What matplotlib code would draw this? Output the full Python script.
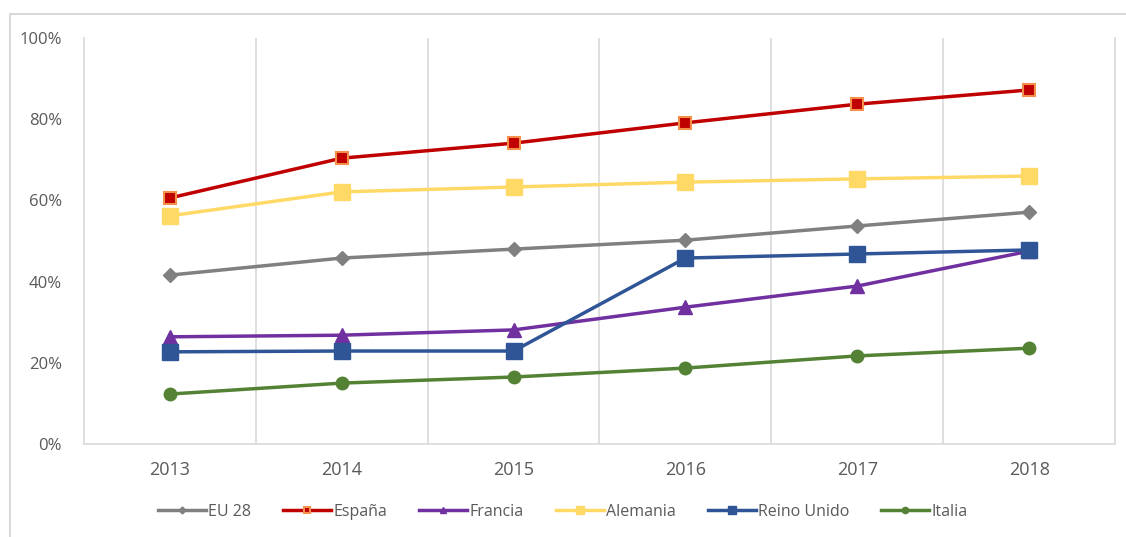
import matplotlib
matplotlib.use("Agg")
import matplotlib.pyplot as plt
from matplotlib.patches import Rectangle
from matplotlib.ticker import FuncFormatter

years = ["2013", "2014", "2015", "2016", "2017", "2018"]
eu28 = [41.6, 45.8, 48.0, 50.2, 53.7, 57.1]
espana = [60.6, 70.4, 74.1, 79.1, 83.7, 87.2]
francia = [26.4, 26.8, 28.1, 33.7, 38.9, 47.5]
alemania = [56.2, 62.1, 63.3, 64.5, 65.3, 66.0]
reino_unido = [22.7, 22.9, 22.9, 45.8, 46.8, 47.8]
italia = [12.3, 15.0, 16.5, 18.7, 21.7, 23.6]

plt.rcParams['font.family'] = ['Open Sans', 'DejaVu Sans']

fig = plt.figure(figsize=(11.26, 5.37), dpi=100)
ax = fig.add_axes([84/1126, 1-444/537, (1115-84)/1126, (444-38)/537])

x = list(range(len(years)))
series = [
    ("EU 28", eu28, dict(color="#808080", marker="D", ms=7, mfc="#808080", mec="#808080")),
    ("España", espana, dict(color="#C00000", marker="s", ms=9, mfc="#C00000", mec="#F4904A", mew=1.5)),
    ("Francia", francia, dict(color="#7030A0", marker="^", ms=10, mfc="#7030A0", mec="#7030A0")),
    ("Alemania", alemania, dict(color="#FFD966", marker="s", ms=11, mfc="#FFD966", mec="#FFD966")),
    ("Reino Unido", reino_unido, dict(color="#2F5597", marker="s", ms=11, mfc="#2F5597", mec="#2F5597")),
    ("Italia", italia, dict(color="#548235", marker="o", ms=9, mfc="#548235", mec="#548235")),
]
for name, vals, st in series:
    ax.plot(x, vals, lw=2.5, label=name, **st)

ax.set_xlim(-0.5, len(years) - 0.5)
ax.set_ylim(0, 100)
ax.set_yticks([0, 20, 40, 60, 80, 100])
ax.yaxis.set_major_formatter(FuncFormatter(lambda v, p: f"{int(v)}%"))
ax.set_xticks(x)
ax.set_xticklabels(years)
for b in [i + 0.5 for i in range(len(years) - 1)]:
    ax.axvline(b, color="#D9D9D9", lw=1.2, zorder=0)

ax.spines["top"].set_visible(False)
for s in ["left", "right", "bottom"]:
    ax.spines[s].set_color("#D9D9D9")
    ax.spines[s].set_linewidth(1.2)

ax.tick_params(axis="both", length=0, colors="#595959", labelsize=12)
ax.tick_params(axis="x", pad=12)
ax.tick_params(axis="y", pad=16)
for lab in ax.get_xticklabels():
    lab.set_fontsize(13)

leg = fig.legend(loc="center", bbox_to_anchor=(0.5, 1-512/537), ncol=6, frameon=False,
                 fontsize=11.5, handlelength=3.0, markerscale=0.5, columnspacing=2.0,
                 handletextpad=0.15, labelcolor="#595959")

fig.patches.append(Rectangle((10/1126, -0.1), 1.2, 1 - 14/537 + 0.1, transform=fig.transFigure,
                             fill=False, edgecolor="#D9D9D9", lw=1.5))

fig.savefig("out.png", dpi=100)
